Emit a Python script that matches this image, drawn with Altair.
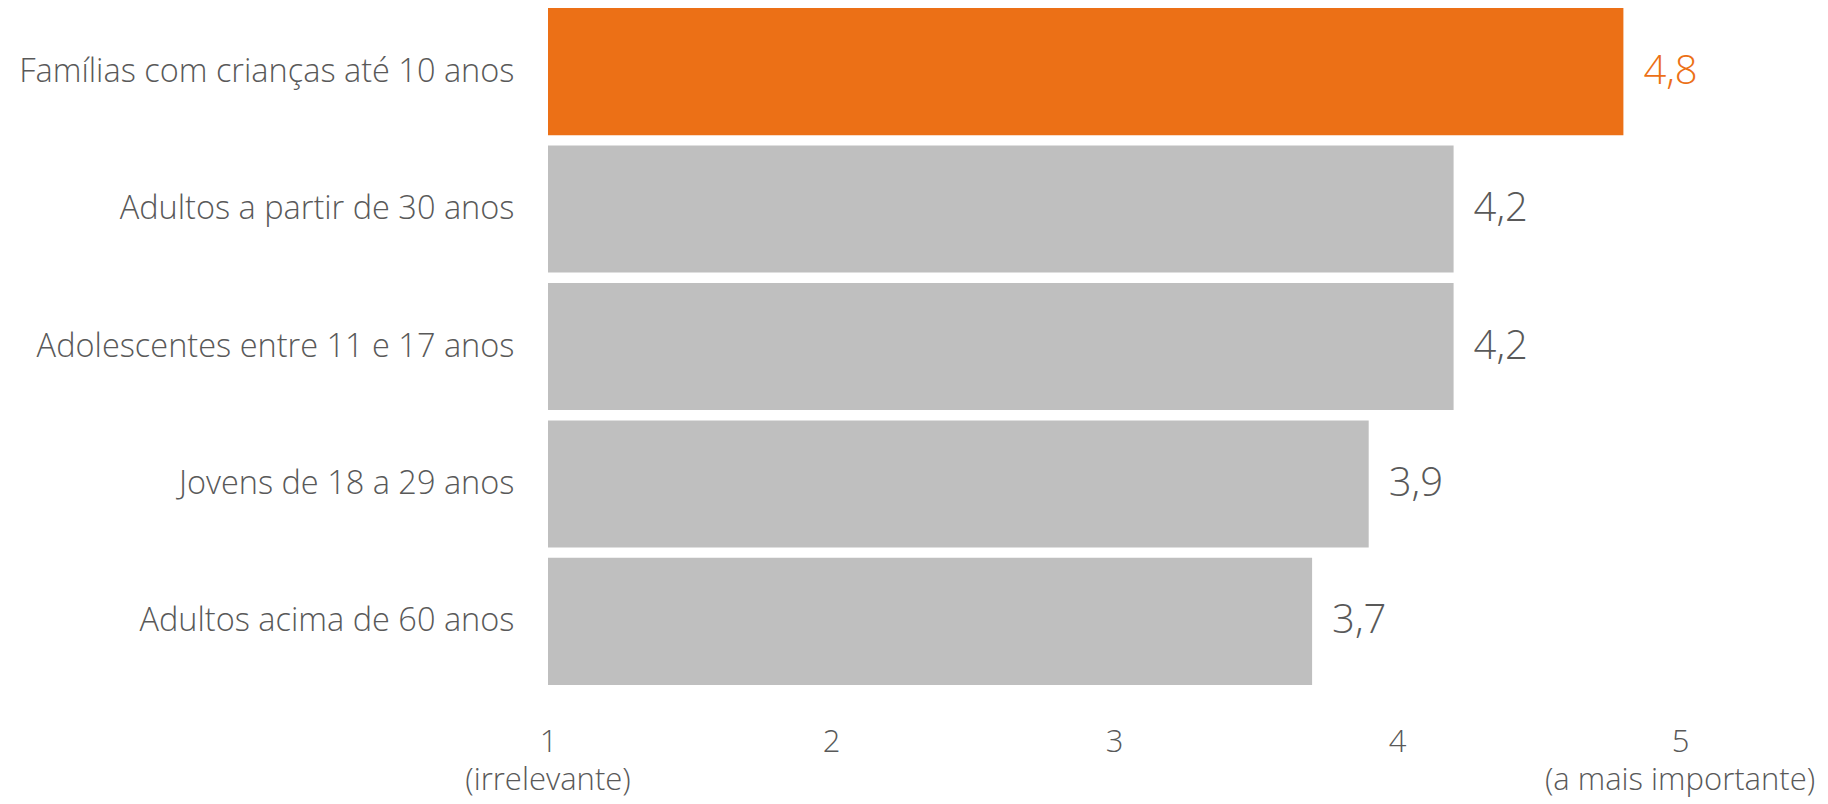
import altair as alt
import pandas as pd

categories = [
    "Famílias com crianças até 10 anos",
    "Adultos a partir de 30 anos",
    "Adolescentes entre 11 e 17 anos",
    "Jovens de 18 a 29 anos",
    "Adultos acima de 60 anos",
]
values = [4.8, 4.2, 4.2, 3.9, 3.7]
value_labels = ["4,8", "4,2", "4,2", "3,9", "3,7"]
highlight = [True, False, False, False, False]

tick_values = [1, 2, 3, 4, 5]
end_notes = ["(irrelevante)", "(a mais importante)"]
end_note_positions = [1, 5]

ORANGE = "#EC7016"
GRAY = "#BFBFBF"
TEXT = "#595959"
FONT = "Open Sans"

df = pd.DataFrame({
    "cat": categories,
    "value": values,
    "label": value_labels,
    "hl": highlight,
})
notes = pd.DataFrame({"note": end_notes, "pos": end_note_positions})

xscale = alt.Scale(domain=[1, 5], zero=False, nice=False)
yscale = alt.Scale(paddingInner=0.075, paddingOuter=0)

base = alt.Chart(df)

bars = base.mark_bar().encode(
    y=alt.Y("cat:N", sort=categories, scale=yscale,
            axis=alt.Axis(title=None, domain=False, ticks=False,
                          labelFontSize=32.5, labelColor=TEXT, labelFont=FONT,
                          labelFontWeight=300, labelPadding=34, labelLimit=0)),
    x=alt.X("value:Q", scale=xscale,
            axis=alt.Axis(title=None, values=tick_values, domain=False, ticks=False,
                          grid=False, labelFontSize=31, labelColor=TEXT, labelFont=FONT,
                          labelFontWeight=300, labelPadding=42, labelFlush=False,
                          format="d")),
    x2=alt.datum(1),
    color=alt.condition("datum.hl", alt.value(ORANGE), alt.value(GRAY)),
)

labels = base.mark_text(align="left", baseline="middle", dx=20, fontSize=40,
                        font=FONT, fontWeight=300).encode(
    y=alt.Y("cat:N", sort=categories),
    x=alt.X("value:Q"),
    text="label:N",
    color=alt.condition("datum.hl", alt.value(ORANGE), alt.value(TEXT)),
)

note_text = alt.Chart(notes).mark_text(align="center", baseline="middle", fontSize=31,
                                       font=FONT, fontWeight=300, color=TEXT).encode(
    x=alt.X("pos:Q"),
    y=alt.value(773),
    text="note:N",
)

chart = alt.layer(bars, labels, note_text).properties(
    width=1132, height=677,
    padding={"left": 540, "top": 0, "right": 140, "bottom": 118},
    autosize=alt.AutoSizeParams(type="none"),
).configure_view(stroke=None)

chart.save("out.html", embed_options={"renderer": "svg", "actions": False})
